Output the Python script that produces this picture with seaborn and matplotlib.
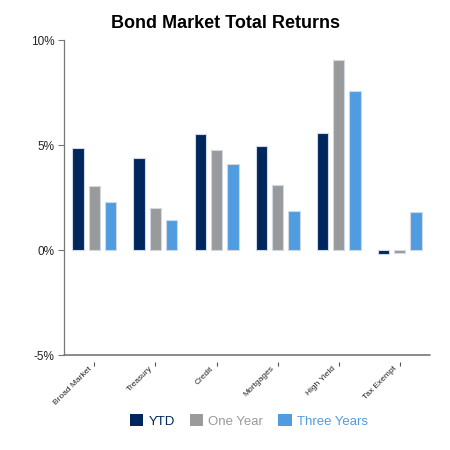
import pandas as pd
import matplotlib
matplotlib.use("Agg")
import matplotlib.pyplot as plt
import matplotlib.transforms as mtransforms
import seaborn as sns
from matplotlib.ticker import FuncFormatter

categories = ["Broad Market", "Treasury", "Credit", "Mortgages", "High Yield", "Tax Exempt"]
series = ["YTD", "One Year", "Three Years"]
ytd = [4.86, 4.37, 5.51, 4.97, 5.57, -0.21]
one_year = [3.06, 1.98, 4.75, 3.11, 9.05, -0.12]
three_years = [2.29, 1.41, 4.10, 1.87, 7.56, 1.81]
colors = ["#00275D", "#999A9C", "#4F9CE0"]

df = pd.DataFrame({"category": categories * 3,
                   "series": [s for s in series for _ in categories],
                   "value": ytd + one_year + three_years})

sns.set_style("white")
plt.rcParams["font.family"] = ["Liberation Sans", "DejaVu Sans"]

fig = plt.figure(figsize=(4.5, 4.5), dpi=100)
ax = fig.add_axes([0.142, 0.211, 0.814, 0.700])

sns.barplot(data=df, x="category", y="value", hue="series", palette=colors,
            saturation=1, width=0.8, gap=0.3, ax=ax, legend=True,
            linewidth=0.8, edgecolor="#d0d8e4")

ax.set_ylim(-5, 10)
ax.set_xlim(-0.5, 5.5)
ax.set_yticks([-5, 0, 5, 10])
ax.yaxis.set_major_formatter(FuncFormatter(lambda v, p: f"{v:.0f}%"))
ax.set_xlabel("")
ax.set_ylabel("")

for s in ["top", "right"]:
    ax.spines[s].set_visible(False)
ax.spines["left"].set_color("#777777")
ax.spines["left"].set_linewidth(0.9)
ax.spines["bottom"].set_position(("outward", 5))
ax.spines["bottom"].set_visible(False)
ax.axhline(-5, color="#777777", lw=1.2, clip_on=False)

ax.tick_params(axis="y", which="both", left=True, length=4, width=0.8,
               color="#777777", labelsize=8.5, labelcolor="#222222", pad=3)
ax.tick_params(axis="x", which="both", bottom=True, length=3, width=0.8,
               color="#555555", labelsize=6, labelcolor="#222222", pad=0)
# labels sit a little left of their tick marks
shift = mtransforms.ScaledTranslation(-0.065, 0.01, fig.dpi_scale_trans)
for lab in ax.get_xticklabels():
    lab.set_rotation(45)
    lab.set_ha("right")
    lab.set_rotation_mode("anchor")
    lab.set_transform(lab.get_transform() + shift)

ax.set_title("Bond Market Total Returns", fontsize=13, fontweight="bold",
             color="black", pad=9, x=0.44)

leg = ax.legend(loc="center", ncol=3, frameon=False,
                fontsize=9.5, handlelength=1.0, handleheight=1.0,
                handletextpad=0.4, columnspacing=1.15, labelcolor="linecolor")
leg.set_bbox_to_anchor((0.553, 0.064), transform=fig.transFigure)
for h in leg.legend_handles:
    h.set_edgecolor("none")

fig.savefig("out.png", dpi=100)
